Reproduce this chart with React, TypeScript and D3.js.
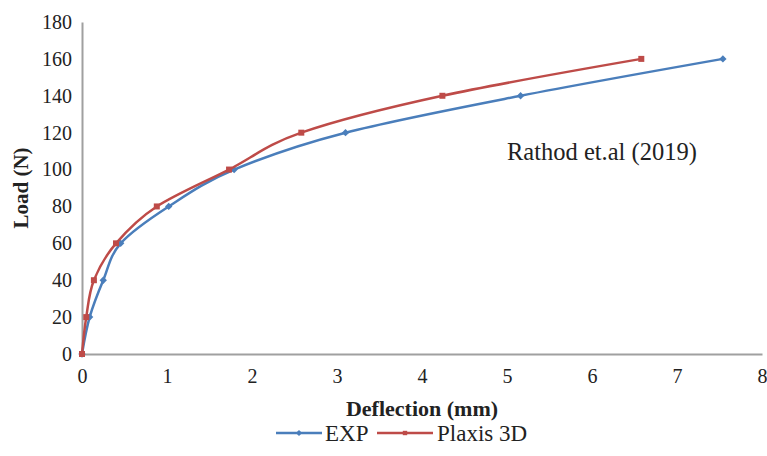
import React, { useEffect, useRef } from 'react'
import * as d3 from 'd3'

const loads = [0, 20, 40, 60, 80, 100, 120, 140, 160]
const expDeflection = [0, 0.09, 0.25, 0.455, 1.02, 1.79, 3.1, 5.16, 7.54]
const plaxisDeflection = [0, 0.05, 0.14, 0.4, 0.88, 1.73, 2.58, 4.24, 6.58]
const seriesNames = ['EXP', 'Plaxis 3D']
const seriesColors = ['#4a7ebb', '#be4b48']
const xTicks = [0, 1, 2, 3, 4, 5, 6, 7, 8]
const yTicks = [0, 20, 40, 60, 80, 100, 120, 140, 160, 180]

export default function App() {
  const chart = useRef<SVGSVGElement>(null)

  const width = 767
  const height = 456
  const margin = { top: 22, right: 5, bottom: 102, left: 82 }
  const font = '"Liberation Serif", "Times New Roman", serif'

  useEffect(() => {
    const svg = d3.select(chart.current)
    svg.selectAll('*').remove()

    const x = d3.scaleLinear().domain([0, 8]).range([margin.left, width - margin.right])
    const y = d3.scaleLinear().domain([0, 180]).range([height - margin.bottom, margin.top])

    // axes: plain grey lines, no tick marks
    svg.append('g')
      .attr('transform', `translate(0,${y(0)})`)
      .call(d3.axisBottom(x).tickValues(xTicks).tickSize(0).tickPadding(15))
      .call(g => g.select('.domain').attr('stroke', '#a0a0a0').attr('stroke-width', 2))
      .call(g => g.selectAll('text').style('font-family', font).style('font-size', '20px').attr('fill', '#222'))

    svg.append('g')
      .attr('transform', `translate(${x(0)},0)`)
      .call(d3.axisLeft(y).tickValues(yTicks).tickSize(0).tickPadding(10))
      .call(g => g.select('.domain').attr('stroke', '#a0a0a0').attr('stroke-width', 2))
      .call(g => g.selectAll('text').style('font-family', font).style('font-size', '20px').attr('fill', '#222'))

    const series = [expDeflection, plaxisDeflection]

    // load is the steadily rising variable, so smooth along y
    const line = d3.line<number>()
      .curve(d3.curveMonotoneY)
      .x(d => x(d))
      .y((_, i) => y(loads[i]))

    series.forEach((vals, s) => {
      svg.append('path')
        .datum(vals)
        .attr('fill', 'none')
        .attr('stroke', seriesColors[s])
        .attr('stroke-width', 2.5)
        .attr('stroke-linejoin', 'round')
        .attr('d', line)

      svg.append('g').selectAll('path')
        .data(vals)
        .join('path')
        .attr('transform', (d, i) => `translate(${x(d)},${y(loads[i])})${s === 0 ? ' rotate(45)' : ''}`)
        .attr('d', s === 0 ? 'M-2.6,-2.6H2.6V2.6H-2.6Z' : 'M-3,-3H3V3H-3Z')
        .attr('fill', seriesColors[s])
    })

    svg.append('text')
      .attr('x', 507)
      .attr('y', 160)
      .style('font-family', font)
      .style('font-size', '24.5px')
      .attr('fill', '#222')
      .text('Rathod et.al (2019)')

    svg.append('text')
      .attr('x', (x(0) + x(8)) / 2)
      .attr('y', 416)
      .attr('text-anchor', 'middle')
      .style('font-family', font)
      .style('font-weight', 'bold')
      .style('font-size', '22px')
      .attr('fill', '#222')
      .text('Deflection (mm)')

    svg.append('text')
      .attr('transform', `translate(28,${(y(0) + y(180)) / 2}) rotate(-90)`)
      .attr('text-anchor', 'middle')
      .style('font-family', font)
      .style('font-weight', 'bold')
      .style('font-size', '21px')
      .attr('fill', '#222')
      .text('Load (N)')

    // legend
    const legendX = [276, 377]
    seriesNames.forEach((name, s) => {
      const g = svg.append('g').attr('transform', `translate(${legendX[s]},433)`)
      g.append('line').attr('x1', 0).attr('x2', s === 0 ? 46 : 56)
        .attr('stroke', seriesColors[s]).attr('stroke-width', 2.5)
      g.append('path')
        .attr('transform', `translate(${s === 0 ? 23 : 28},0)${s === 0 ? ' rotate(45)' : ''}`)
        .attr('d', 'M-2.2,-2.2H2.2V2.2H-2.2Z')
        .attr('fill', seriesColors[s])
      g.append('text')
        .attr('x', s === 0 ? 49 : 60)
        .attr('y', 8)
        .style('font-family', font)
        .style('font-size', '23px')
        .attr('fill', '#222')
        .text(name)
    })
  }, [])

  return (
    <svg ref={chart} width={width} height={height}
      style={{ position: 'absolute', left: 0, top: 0, background: '#fff' }} />
  )
}
